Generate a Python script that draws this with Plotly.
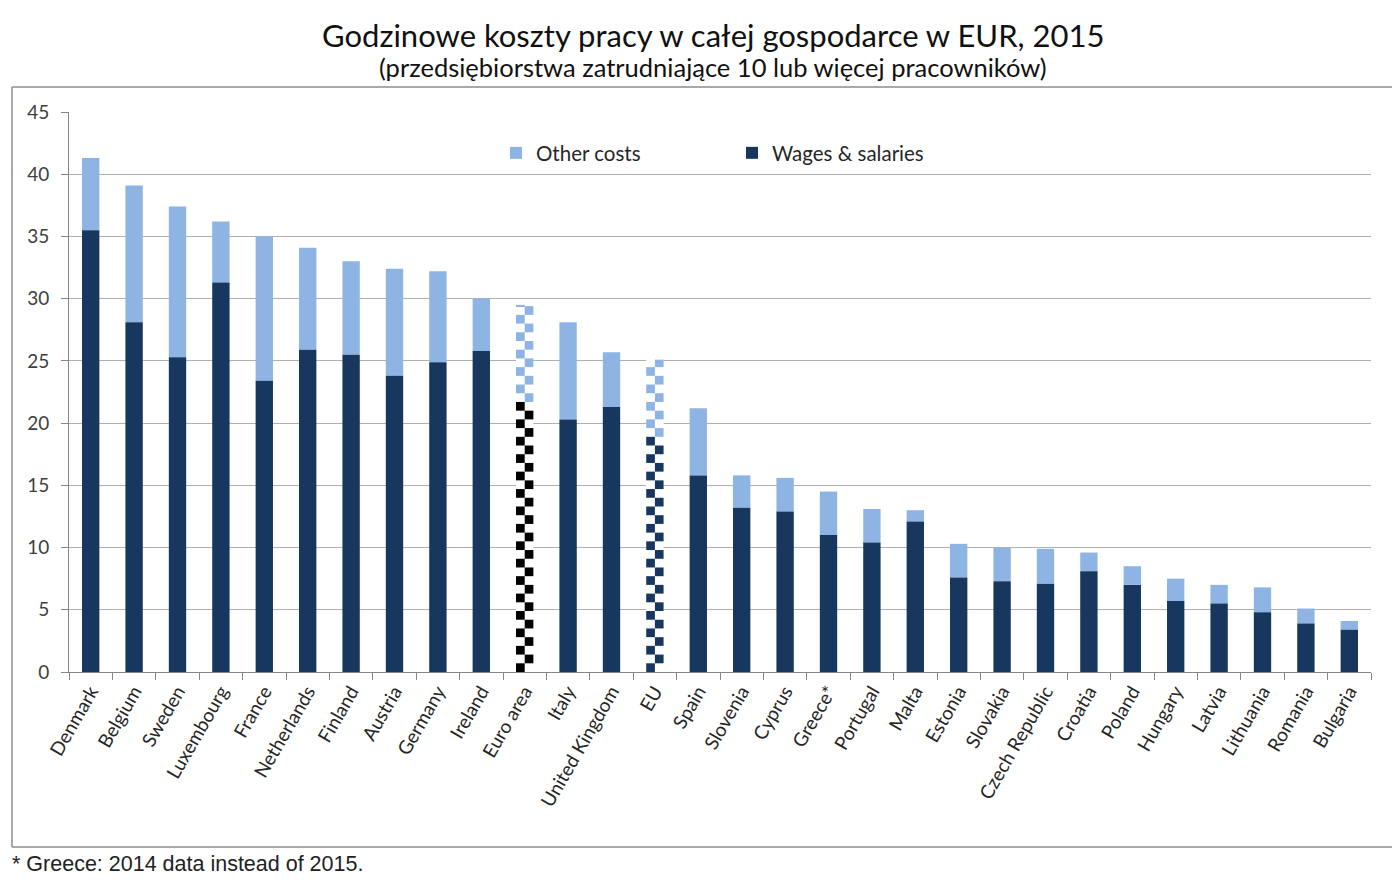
import math
import plotly.graph_objects as go

categories = ["Denmark", "Belgium", "Sweden", "Luxembourg", "France", "Netherlands",
              "Finland", "Austria", "Germany", "Ireland", "Euro area", "Italy",
              "United Kingdom", "EU", "Spain", "Slovenia", "Cyprus", "Greece*",
              "Portugal", "Malta", "Estonia", "Slovakia", "Czech Republic", "Croatia",
              "Poland", "Hungary", "Latvia", "Lithuania", "Romania", "Bulgaria"]

total_cost = [41.3, 39.1, 37.4, 36.2, 35.0, 34.1, 33.0, 32.4, 32.2, 30.0, 29.5, 28.1,
              25.7, 25.1, 21.2, 15.8, 15.6, 14.5, 13.1, 13.0, 10.3, 10.0, 9.9, 9.6,
              8.5, 7.5, 7.0, 6.8, 5.1, 4.1]

wages_salaries = [35.5, 28.1, 25.3, 31.3, 23.4, 25.9, 25.5, 23.8, 24.9, 25.8, 21.7, 20.3,
                  21.3, 18.9, 15.8, 13.2, 12.9, 11.0, 10.4, 12.1, 7.6, 7.3, 7.1, 8.1,
                  7.0, 5.7, 5.5, 4.8, 3.9, 3.4]

aggregates = ["Euro area", "EU"]

y_ticks = [0, 5, 10, 15, 20, 25, 30, 35, 40, 45]

other_costs = [round(t - w, 2) for t, w in zip(total_cost, wages_salaries)]

# styles
NAVY = "#17375E"
LIGHT = "#8EB4E3"
AGG_WAGE_COLOR = {"Euro area": "#000000", "EU": NAVY}
BAR_W = 0.40
CELL_H = 0.70  # checker cell height in axis units

# figure geometry (pixels); the page has an 8px body margin
OFF = 8
W, H = 1400 - OFF, 885 - OFF
PLOT_LEFT, PLOT_RIGHT, PLOT_TOP, PLOT_BOTTOM = 69, 1371, 112, 672  # page pixels
L = PLOT_LEFT - OFF
T = PLOT_TOP - OFF
R = W - (PLOT_RIGHT - OFF)
B = H - (PLOT_BOTTOM - OFF)
PW, PH = PLOT_RIGHT - PLOT_LEFT, PLOT_BOTTOM - PLOT_TOP


def px_x(x):
    return (x - PLOT_LEFT) / PW


def px_y(y):
    return (PLOT_BOTTOM - y) / PH


fig = go.Figure()

is_agg = [c in aggregates for c in categories]

fig.add_trace(go.Bar(
    name="Other costs", x=categories,
    y=[None if a else v for v, a in zip(other_costs, is_agg)],
    base=wages_salaries, width=BAR_W,
    marker=dict(color=LIGHT, line=dict(width=0)), legendrank=1,
))
fig.add_trace(go.Bar(
    name="Wages & salaries", x=categories,
    y=[None if a else v for v, a in zip(wages_salaries, is_agg)],
    base=[0] * len(categories), width=BAR_W,
    marker=dict(color=NAVY, line=dict(width=0)), legendrank=2,
))

# white backing for checkered aggregate bars
agg_idx = [categories.index(a) for a in aggregates]
fig.add_trace(go.Bar(
    x=[categories[i] for i in agg_idx],
    y=[total_cost[i] for i in agg_idx],
    base=[0] * len(agg_idx), width=BAR_W,
    marker=dict(color="white", line=dict(width=0)),
    showlegend=False, hoverinfo="skip",
))

# checkered cells
cells = {}
for i in agg_idx:
    cat = categories[i]
    parts = [(0.0, wages_salaries[i], AGG_WAGE_COLOR[cat]),
             (wages_salaries[i], total_cost[i], LIGHT)]
    row = 0
    for lo, hi, col in parts:
        n = math.ceil((hi - lo) / CELL_H - 1e-9)
        for k in range(n):
            b0 = lo + k * CELL_H
            b1 = min(b0 + CELL_H, hi)
            d = cells.setdefault(col, dict(x=[], base=[], y=[], offset=[]))
            d["x"].append(cat)
            d["base"].append(b0)
            d["y"].append(b1 - b0)
            d["offset"].append(-BAR_W / 2 if row % 2 == 0 else 0.0)
            row += 1

for col, d in cells.items():
    fig.add_trace(go.Bar(
        x=d["x"], y=d["y"], base=d["base"], offset=d["offset"],
        width=[BAR_W / 2] * len(d["x"]),
        marker=dict(color=col, line=dict(width=0)),
        showlegend=False, hoverinfo="skip",
    ))

FONT = "Lato"
FRAME = dict(color="#8c8c8c", width=1.5)
fx0, fx1, fy0, fy1 = px_x(12), px_x(1430), px_y(847), px_y(87)

fig.update_layout(
    width=W, height=H,
    margin=dict(l=L, r=R, t=T, b=B, pad=0),
    paper_bgcolor="white", plot_bgcolor="white",
    barmode="overlay",
    font=dict(family=FONT, size=19, color="#404040"),
    showlegend=True,
    legend=dict(
        orientation="h", x=px_x(496), y=px_y(153), xanchor="left", yanchor="middle",
        font=dict(family=FONT, size=20.5, color="#262626"),
        entrywidth=191, entrywidthmode="pixels", traceorder="normal",
        bgcolor="rgba(0,0,0,0)", itemclick=False, itemdoubleclick=False,
    ),
    xaxis=dict(
        type="category", categoryorder="array", categoryarray=categories,
        range=[-0.5, len(categories) - 0.5],
        showline=True, linecolor="#868686", linewidth=1,
        ticks="outside", tickson="boundaries", ticklen=7, tickcolor="#868686",
        tickangle=-60, showgrid=False,
        tickfont=dict(family=FONT, size=19, color="#262626"),
    ),
    yaxis=dict(
        range=[0, 45], tickvals=y_ticks,
        showline=True, linecolor="#868686", linewidth=1,
        ticks="outside", ticklen=7, tickcolor="#868686",
        showgrid=True, gridcolor="#b0b0b0", gridwidth=1,
        zeroline=False, ticklabelstandoff=8,
        tickfont=dict(family=FONT, size=19, color="#404040"),
    ),
    shapes=[
        dict(type="line", xref="paper", yref="paper", x0=fx0, x1=fx0, y0=fy0, y1=fy1,
             line=FRAME, layer="below"),
        dict(type="line", xref="paper", yref="paper", x0=fx0, x1=fx1, y0=fy1, y1=fy1,
             line=FRAME, layer="below"),
        dict(type="line", xref="paper", yref="paper", x0=fx0, x1=fx1, y0=fy0, y1=fy0,
             line=FRAME, layer="below"),
    ],
    annotations=[
        dict(text="Godzinowe koszty pracy w całej gospodarce w EUR, 2015",
             xref="paper", yref="paper", x=px_x(713), y=px_y(35),
             xanchor="center", yanchor="middle", showarrow=False,
             font=dict(family=FONT, size=31, color="#111111")),
        dict(text="(przedsiębiorstwa zatrudniające 10 lub więcej pracowników)",
             xref="paper", yref="paper", x=px_x(713), y=px_y(67),
             xanchor="center", yanchor="middle", showarrow=False,
             font=dict(family=FONT, size=25.5, color="#111111")),
        dict(text="* Greece: 2014 data instead of 2015.",
             xref="paper", yref="paper", x=px_x(10), y=px_y(864),
             xanchor="left", yanchor="middle", showarrow=False,
             font=dict(family="Liberation Sans", size=21.5, color="#222222")),
    ],
)

fig.write_html("out.html")
